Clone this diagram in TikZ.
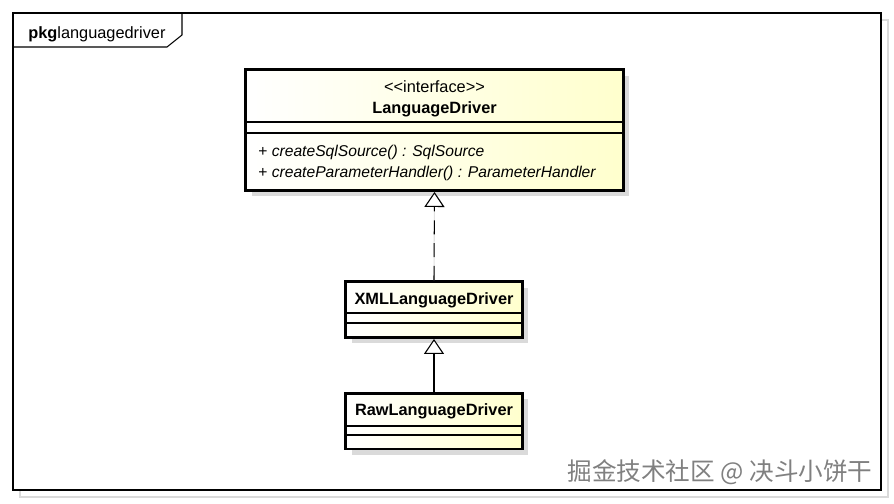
\documentclass[tikz,border=0pt]{standalone}
\usepackage{fontspec}
\setmainfont{Liberation Sans}
\newfontfamily\cjkfont{Noto Sans CJK SC}
\usetikzlibrary{arrows.meta,shadows}

\definecolor{umlyellow}{RGB}{255,255,205}
\definecolor{umlshadow}{RGB}{218,218,218}

\begin{document}
\begin{tikzpicture}[x=0.02cm, y=-0.02cm,
		classbox/.style={
			draw,
			line width=1.7pt,
			left color=white,
			right color=umlyellow,
			drop shadow={shadow xshift=0.12cm, shadow yshift=-0.12cm, fill=umlshadow, opacity=1},
			inner sep=0pt
		},
		label/.style={
			inner sep=0pt,
			font=\fontsize{9.3}{11}\selectfont
		},
		method/.style={
			inner sep=0pt,
			anchor=west,
			font=\fontsize{8.9}{11}\selectfont
		},
		divider/.style={draw, line width=0.6pt},
		generalize/.style={draw, line width=0.6pt, -{Triangle[length=0.3cm, width=0.4cm, fill=white]}},
		ghost/.style={draw=umlshadow!80, line width=0.6pt, -{Triangle[length=0.3cm, width=0.4cm, fill=none]}}
		]
		\useasboundingbox (0,0) rectangle (894,504);
		
		% package frame
		\draw[umlshadow, line width=0.6pt] (20,20) rectangle (888,497);
		\draw[fill=white, line width=0.6pt] (13,13) rectangle (881,490);
		\node[label, anchor=west] (pkg) at (28,34) {\textbf{pkg}languagedriver};
		\draw[line width=0.6pt] (182,13) -- (182,35) -- (167,47) -- (13,47);
		
		% interface
		\node[classbox, minimum width=7.56cm, minimum height=2.42cm] (ld) at (434.5,130) {};
		\node[label] (ldst) at (434.5,87) {\char"3C\kern0pt\char"3C interface\char"3E\kern0pt\char"3E};
		\node[label, font=\fontsize{9.3}{11}\selectfont\bfseries] (ldname) at (434.5,109) {LanguageDriver};
		\draw[divider] (ld.west |- 0,122) -- (ld.east |- 0,122);
		\draw[divider] (ld.west |- 0,133) -- (ld.east |- 0,133);
		\node[method] (m1) at (258,152) {+ \textit{createSqlSource() : SqlSource}};
		\node[method] (m2) at (258,173) {+ \textit{createParameterHandler() : ParameterHandler}};
		
		% implementation
		\node[classbox, minimum width=3.54cm, minimum height=1.12cm] (xml) at (434,309.5) {};
		\node[label, font=\fontsize{9.3}{11}\selectfont\bfseries] (xmlname) at (434,300) {XMLLanguageDriver};
		\draw[divider] (xml.west |- 0,313) -- (xml.east |- 0,313);
		\draw[divider] (xml.west |- 0,323) -- (xml.east |- 0,323);
		
		% subclass
		\node[classbox, minimum width=3.54cm, minimum height=1.12cm] (raw) at (434,421) {};
		\node[label, font=\fontsize{9.3}{11}\selectfont\bfseries] (rawname) at (434,411) {RawLanguageDriver};
		\draw[divider] (raw.west |- 0,426) -- (raw.east |- 0,426);
		\draw[divider] (raw.west |- 0,435) -- (raw.east |- 0,435);
		
		% connectors
		\draw[ghost, shift={(7,3)}] (xml.north) -- (ld.south);
		\draw[ghost, shift={(7,3)}] (raw.north) -- (xml.south);
		\draw[generalize, dash pattern=on 8pt off 5pt] (xml.north) -- (ld.south);
		\draw[generalize] (raw.north) -- (xml.south);
		
		% watermark
		\node[inner sep=0pt, text=black!50, font=\cjkfont\fontsize{14}{16}\selectfont] (wm) at (720,472) {掘金技术社区 @ 决斗小饼干};
		
	\end{tikzpicture}
\end{document}
